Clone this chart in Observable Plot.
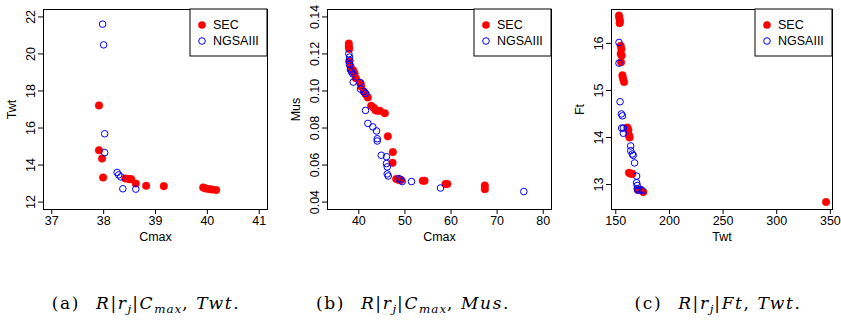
<!DOCTYPE html>
<html><head><meta charset="utf-8">
<script src="https://cdn.jsdelivr.net/npm/d3@7"></script>
<script src="https://cdn.jsdelivr.net/npm/@observablehq/plot@0.6"></script>
<style>
body{margin:0;background:#fff;}
#wrap{position:relative;width:841px;height:320px;font-family:"Liberation Sans",Arial,sans-serif;}
.panel{position:absolute;top:0;}
.cap{position:absolute;top:293px;font-family:"DejaVu Serif",serif;font-size:17px;letter-spacing:1.6px;white-space:nowrap;transform:translateX(-50%);}
.cap i{font-family:"DejaVu Serif",serif;font-style:italic;}
.cap .g{display:inline-block;width:16px;}
.cap sub{font-size:70%;vertical-align:-0.3em;line-height:0;letter-spacing:1px;}
</style></head><body><div id="wrap"></div>
<script>
// ---- Panel (a): Cmax vs Twt ----
const aSecCmax = [37.91, 37.91, 37.97, 37.99, 38.42, 38.49, 38.53, 38.62, 38.82, 39.16, 39.92, 39.96, 40.03, 40.09, 40.17];
const aSecTwt  = [17.22, 14.80, 14.35, 13.33, 13.27, 13.24, 13.24, 13.00, 12.88, 12.86, 12.79, 12.74, 12.70, 12.68, 12.65];
const aNgCmax  = [37.98, 38.00, 38.02, 38.02, 38.26, 38.29, 38.33, 38.37, 38.62];
const aNgTwt   = [21.61, 20.49, 15.69, 14.67, 13.60, 13.47, 13.36, 12.72, 12.70];
const aXTicks = [37, 38, 39, 40, 41];
const aYTicks = [12, 14, 16, 18, 20, 22];

// ---- Panel (b): Cmax vs Mus ----
const bSecCmax = [37.83, 37.83, 37.90, 37.90, 38.20, 38.35, 38.78, 39.07, 39.36, 40.38, 40.52, 41.10, 41.53, 41.96, 42.69, 43.25, 43.62, 43.99, 44.55, 45.64, 46.29, 47.38, 47.31, 48.11, 48.68, 49.19, 53.88, 54.25, 58.80, 59.20, 67.34, 67.34];
const bSecMus  = [0.1256, 0.1239, 0.1227, 0.1160, 0.1133, 0.1115, 0.1111, 0.1096, 0.1069, 0.1042, 0.1024, 0.0996, 0.0981, 0.0965, 0.0920, 0.0909, 0.0896, 0.0893, 0.0893, 0.0880, 0.0755, 0.0670, 0.0612, 0.0525, 0.0519, 0.0519, 0.0515, 0.0515, 0.0498, 0.0498, 0.0490, 0.0470];
const bNgCmax  = [37.83, 37.98, 38.05, 37.98, 38.20, 38.42, 38.70, 38.78, 40.22, 40.37, 41.10, 41.45, 41.45, 41.96, 43.04, 43.84, 43.99, 43.99, 44.86, 46.00, 46.00, 46.16, 46.16, 46.38, 48.68, 49.05, 49.41, 51.43, 57.72, 75.79];
const bNgMus   = [0.1201, 0.1183, 0.1165, 0.1143, 0.1116, 0.1103, 0.1092, 0.1048, 0.1046, 0.1010, 0.0997, 0.0987, 0.0895, 0.0825, 0.0806, 0.0784, 0.0742, 0.0730, 0.0653, 0.0645, 0.0608, 0.0590, 0.0552, 0.0541, 0.0527, 0.0521, 0.0511, 0.0511, 0.0476, 0.0457];
const bXTicks = [40, 50, 60, 70, 80];
const bYTicks = [0.04, 0.06, 0.08, 0.10, 0.12, 0.14];

// ---- Panel (c): Twt vs Ft ----
const cSecTwt = [153.0, 153.3, 153.9, 153.6, 154.6, 155.2, 154.6, 155.5, 154.9, 156.2, 156.8, 157.7, 160.8, 161.7, 162.3, 162.9, 162.3, 163.9, 165.4, 170.6, 173.1, 175.6, 346.0];
const cSecFt  = [16.59, 16.54, 16.48, 16.43, 15.95, 15.88, 15.78, 15.74, 15.60, 15.32, 15.25, 15.18, 14.21, 14.16, 14.05, 14.00, 13.25, 13.23, 13.23, 12.89, 12.89, 12.84, 12.63];
const cNgTwt  = [153.0, 153.0, 154.0, 155.2, 156.2, 155.5, 157.1, 157.1, 163.9, 163.9, 165.4, 166.3, 167.5, 169.4, 169.4, 170.0, 170.0, 170.6, 173.1, 174.7];
const cNgFt   = [16.02, 15.58, 14.76, 14.50, 14.46, 14.20, 14.20, 14.09, 13.82, 13.72, 13.65, 13.62, 13.46, 13.18, 13.04, 12.98, 12.91, 12.88, 12.89, 12.87];
const cXTicks = [150, 200, 250, 300, 350];
const cYTicks = [13, 14, 15, 16];

const seriesNames = ["SEC", "NGSAIII"];
const captions = [
  '(a)<span class="g"></span><i>R</i>|<i>r<sub>j</sub></i>|<i>C<sub>max</sub></i>, <i>Twt</i>.',
  '(b)<span class="g"></span><i>R</i>|<i>r<sub>j</sub></i>|<i>C<sub>max</sub></i>, <i>Mus</i>.',
  '(c)<span class="g"></span><i>R</i>|<i>r<sub>j</sub></i>|<i>Ft</i>, <i>Twt</i>.'
];

const wrap = document.getElementById("wrap");
const H = 242, MT = 9, MB = 33;

function panel(o) {
  const sec = o.secX.map((x, i) => ({x, y: o.secY[i]}));
  const ng = o.ngX.map((x, i) => ({x, y: o.ngY[i]}));
  const p = Plot.plot({
    width: o.width, height: H,
    marginTop: MT, marginBottom: MB, marginLeft: o.ml, marginRight: o.mr,
    style: {fontFamily: "'Liberation Sans', Arial, sans-serif", fontSize: "12.5px", color: "black", background: "white", overflow: "visible"},
    x: {domain: o.xDomain},
    y: {domain: o.yDomain},
    marks: [
      Plot.dot(sec, {x: "x", y: "y", r: 3.8, fill: "red", stroke: "red", strokeWidth: 0.5}),
      Plot.dot(ng, {x: "x", y: "y", r: 3.3, stroke: "blue", strokeWidth: 1, fill: "none"}),
      Plot.frame({stroke: "black", strokeWidth: 1}),
      Plot.axisX({ticks: o.xTicks, tickSize: 5, tickPadding: 2, tickFormat: d3.format("d"), label: o.xLabel, labelAnchor: "center", labelOffset: 31, labelArrow: "none"}),
      Plot.axisY({ticks: o.yTicks, tickSize: 5, tickRotate: -90, tickFormat: o.yFormat, label: o.yLabel, labelAnchor: "center", labelOffset: 36, labelArrow: "none"})
    ]
  });
  p.classList.add("panel");
  p.style.left = o.left + "px";
  // legend box (top-right of plot frame)
  const svg = d3.select(p);
  const fr = o.width - o.mr, lw = 77, lx = fr - lw;
  const g = svg.append("g").attr("font-family", "'Liberation Sans', Arial, sans-serif").attr("font-size", "12.5px").attr("text-anchor", "start");
  g.append("rect").attr("x", lx).attr("y", MT).attr("width", lw).attr("height", 47).attr("fill", "white").attr("stroke", "black");
  g.append("circle").attr("cx", lx + 12).attr("cy", MT + 16).attr("r", 3.8).attr("fill", "red");
  g.append("circle").attr("cx", lx + 12).attr("cy", MT + 32).attr("r", 3.3).attr("fill", "none").attr("stroke", "blue");
  g.append("text").attr("x", lx + 23).attr("y", MT + 16).attr("dy", "0.35em").attr("text-anchor", "start").text(seriesNames[0]);
  g.append("text").attr("x", lx + 23).attr("y", MT + 32).attr("dy", "0.35em").attr("text-anchor", "start").text(seriesNames[1]);
  wrap.appendChild(p);
}

panel({secX: aSecCmax, secY: aSecTwt, ngX: aNgCmax, ngY: aNgTwt, xDomain: [36.84, 41.16], yDomain: [11.6, 22.4],
  xTicks: aXTicks, yTicks: aYTicks, yFormat: d3.format("d"), xLabel: "Cmax", yLabel: "Twt", width: 280, ml: 43, mr: 13, left: 0});
panel({secX: bSecCmax, secY: bSecMus, ngX: bNgCmax, ngY: bNgMus, xDomain: [33.2, 81.8], yDomain: [0.036, 0.144],
  xTicks: bXTicks, yTicks: bYTicks, yFormat: d3.format(".2f"), xLabel: "Cmax", yLabel: "Mus", width: 280, ml: 47, mr: 9, left: 280});
panel({secX: cSecTwt, secY: cSecFt, ngX: cNgTwt, ngY: cNgFt, xDomain: [146, 352], yDomain: [12.47, 16.72],
  xTicks: cXTicks, yTicks: cYTicks, yFormat: d3.format("d"), xLabel: "Twt", yLabel: "Ft", width: 281, ml: 51, mr: 9, left: 560});

const capX = [146, 413, 718];
captions.forEach((c, i) => {
  const d = document.createElement("div");
  d.className = "cap";
  d.style.left = capX[i] + "px";
  d.innerHTML = c;
  wrap.appendChild(d);
});
</script></body></html>
